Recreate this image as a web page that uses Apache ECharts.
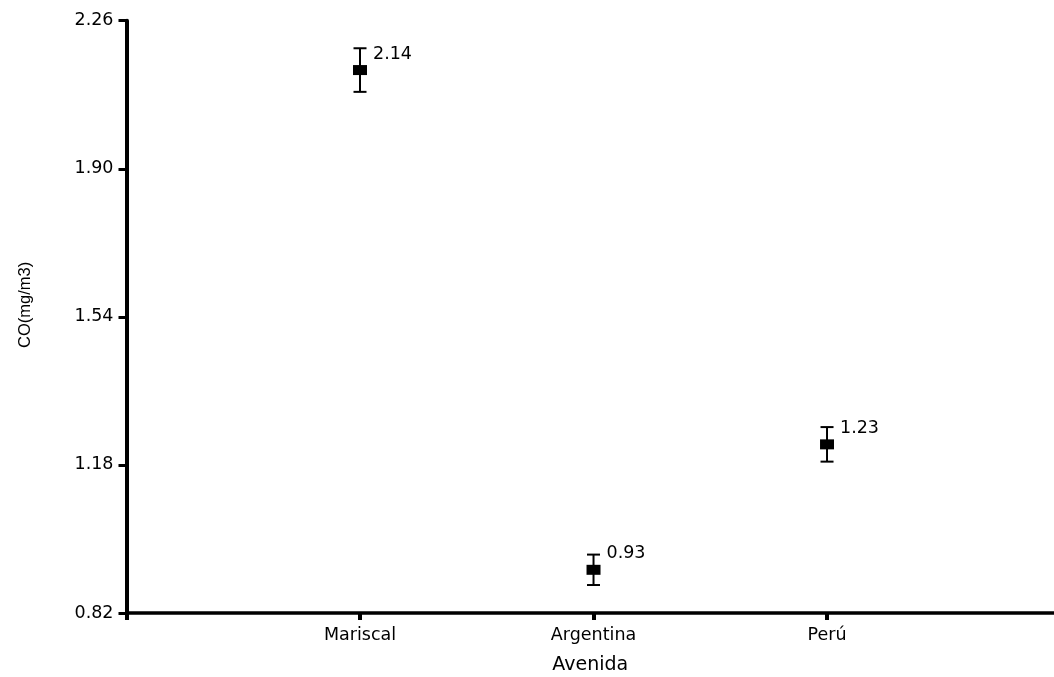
<!DOCTYPE html>
<html>
<head>
<meta charset="utf-8">
<script src="https://cdn.jsdelivr.net/npm/echarts@6/dist/echarts.min.js"></script>
<style>
html,body{margin:0;padding:0;background:#fff;}
#chart{width:1054px;height:677px;}
</style>
</head>
<body>
<div id="chart"></div>
<script>
const categories = ['Mariscal', 'Argentina', 'Perú'];
const means = [2.14, 0.925, 1.23];
const errors = [0.053, 0.037, 0.042];
const yMin = 0.82, yMax = 2.26, yStep = 0.36;
const xName = 'Avenida';
const yName = 'CO(mg/m3)';

const WIDE = '"DejaVu Sans", Verdana, sans-serif';
const NARROW = '"Liberation Sans", Arial, sans-serif';
const points = categories.map((c, i) => [i + 1, means[i]]);
const errData = categories.map((c, i) => [i + 1, means[i] - errors[i], means[i] + errors[i]]);

const chart = echarts.init(document.getElementById('chart'));
chart.setOption({
  animation: false,
  backgroundColor: '#fff',
  grid: { left: 126.5, right: 0, top: 20.7, bottom: 64, containLabel: false, outerBoundsMode: 'none' },
  xAxis: {
    type: 'value', min: 0, max: 3.972, interval: 1,
    name: xName, nameLocation: 'middle', nameGap: 43,
    nameTextStyle: { fontFamily: WIDE, fontSize: 19, color: '#000' },
    splitLine: { show: false },
    axisLine: { show: true, lineStyle: { color: '#000', width: 3.5 } },
    axisTick: { show: true, inside: false, length: 7, lineStyle: { color: '#000', width: 4 }, customValues: [0, 1, 2, 3] },
    axisLabel: {
      customValues: [1, 2, 3],
      margin: 13, fontFamily: WIDE, fontSize: 17.5, color: '#000',
      formatter: v => (Number.isInteger(v) && v >= 1 && v <= categories.length) ? categories[v - 1] : ''
    }
  },
  yAxis: {
    type: 'value', min: yMin, max: yMax, interval: yStep,
    name: yName, nameLocation: 'middle', nameGap: 93, nameRotate: 90,
    nameTextStyle: { fontFamily: NARROW, fontSize: 16.5, color: '#000', padding: [0, 0, 0, 24] },
    splitLine: { show: false },
    axisLine: { show: true, lineStyle: { color: '#000', width: 4 } },
    axisTick: { show: true, inside: false, length: 8, lineStyle: { color: '#000', width: 3 } },
    axisLabel: { margin: 13, fontFamily: WIDE, fontSize: 17.5, color: '#000', formatter: v => v.toFixed(2) }
  },
  series: [
    {
      type: 'custom',
      data: errData,
      z: 3,
      renderItem: function (params, api) {
        const x = api.value(0);
        const lo = api.coord([x, api.value(1)]);
        const hi = api.coord([x, api.value(2)]);
        const hw = 6.5;
        const style = { stroke: '#000', lineWidth: 2 };
        return {
          type: 'group',
          children: [
            { type: 'line', shape: { x1: lo[0], y1: lo[1], x2: hi[0], y2: hi[1] }, style },
            { type: 'line', shape: { x1: lo[0] - hw, y1: lo[1], x2: lo[0] + hw, y2: lo[1] }, style },
            { type: 'line', shape: { x1: hi[0] - hw, y1: hi[1], x2: hi[0] + hw, y2: hi[1] }, style }
          ]
        };
      }
    },
    {
      type: 'scatter',
      data: points,
      z: 4,
      symbol: 'rect',
      symbolSize: [14, 10],
      itemStyle: { color: '#000', opacity: 1 },
      label: {
        show: true,
        position: [20, -11],
        align: 'left',
        verticalAlign: 'middle',
        fontFamily: WIDE, fontSize: 17.5, color: '#000', opacity: 1,
        textBorderWidth: 0,
        formatter: p => p.value[1].toFixed(2)
      },
      emphasis: { disabled: true }
    }
  ]
});
</script>
</body>
</html>
